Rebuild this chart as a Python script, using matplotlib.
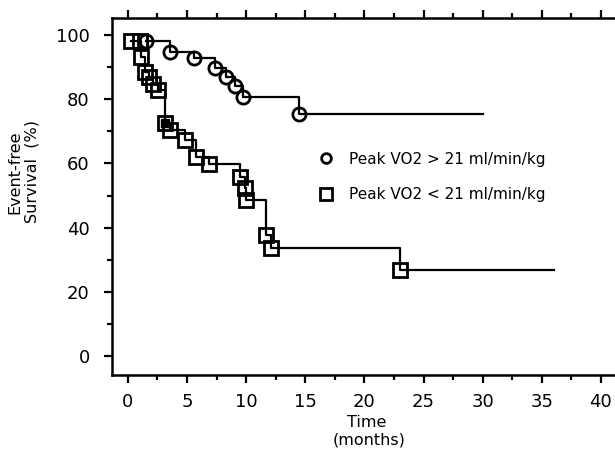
import matplotlib
matplotlib.use('Agg')
import matplotlib.pyplot as plt
from matplotlib.lines import Line2D
from matplotlib.ticker import MultipleLocator

plt.rcParams['font.family'] = ['DejaVu Sans']

# Peak VO2 > 21 ml/min/kg (circles)
hi_time = [1.5, 3.55, 5.6, 7.35, 8.3, 9.05, 9.7, 14.5, 30.0]
hi_surv = [98.0, 94.8, 93.0, 89.8, 87.0, 84.1, 80.6, 75.4, 75.4]

# Peak VO2 < 21 ml/min/kg (squares)
lo_time = [0.3, 1.0, 1.15, 1.45, 1.75, 2.15, 2.55, 3.1, 3.55, 4.8, 5.8, 6.9,
           9.5, 9.9, 10.0, 11.7, 12.1, 23.0, 36.0]
lo_surv = [98.0, 98.0, 93.3, 88.4, 86.8, 84.8, 82.9, 72.5, 70.4, 67.3, 62.0, 59.8,
           55.9, 52.2, 48.7, 37.7, 33.7, 26.8, 26.8]

hi_label = 'Peak VO2 > 21 ml/min/kg'
lo_label = 'Peak VO2 < 21 ml/min/kg'

fig = plt.figure(figsize=(6.15, 4.51), dpi=100)
ax = fig.add_axes([0.182, 0.1685, 0.83, 0.7915])
x1 = -1.35 + (41.35 + 1.35) * 0.83 / 0.821

lw = 1.6
ax.plot(hi_time, hi_surv, color='black', lw=lw, drawstyle='steps-post')
ax.plot(hi_time[:-1], hi_surv[:-1], ls='none', marker='o', ms=9.5,
        mfc='none', mec='black', mew=2)
ax.plot(lo_time, lo_surv, color='black', lw=lw, drawstyle='steps-post')
ax.plot(lo_time[:-1], lo_surv[:-1], ls='none', marker='s', ms=9.5,
        mfc='none', mec='black', mew=2)
# filled square where the points pile up
ax.plot(lo_time[7], lo_surv[7], ls='none', marker='s', ms=6, color='black')

ax.set_xlim(-1.35, x1)
ax.set_ylim(-5.9, 105.3)
ax.xaxis.set_major_locator(MultipleLocator(5))
ax.xaxis.set_minor_locator(MultipleLocator(2.5))
ax.yaxis.set_major_locator(MultipleLocator(20))
ax.yaxis.set_minor_locator(MultipleLocator(10))
ax.tick_params(which='both', direction='out', width=1.6, top=True, labelsize=13)
ax.tick_params(which='major', length=6)
ax.tick_params(which='minor', length=3.5)
ax.tick_params(axis='x', pad=7)
ax.tick_params(axis='y', pad=10)
for s in ax.spines.values():
    s.set_linewidth(1.8)

ax.set_ylabel('Event-free\nSurvival  (%)', fontsize=11.5, linespacing=1.2)
ax.yaxis.set_label_coords(-0.142, 0.569)
ax.text(18.5, -20.7, 'Time', fontsize=11.5, ha='left', va='center')
ax.text(17.3, -26.2, '(months)', fontsize=11.5, ha='left', va='center')

handles = [Line2D([], [], ls='none', marker='o', ms=7, mfc='none', mec='black', mew=2),
           Line2D([], [], ls='none', marker='s', ms=8, mfc='none', mec='black', mew=2)]
ax.legend(handles, [hi_label, lo_label], loc='center left',
          bbox_to_anchor=(0.374, 0.555), frameon=False, fontsize=11,
          handletextpad=0.9, labelspacing=1.33, handlelength=1.2)

fig.savefig('out.png', dpi=100)
